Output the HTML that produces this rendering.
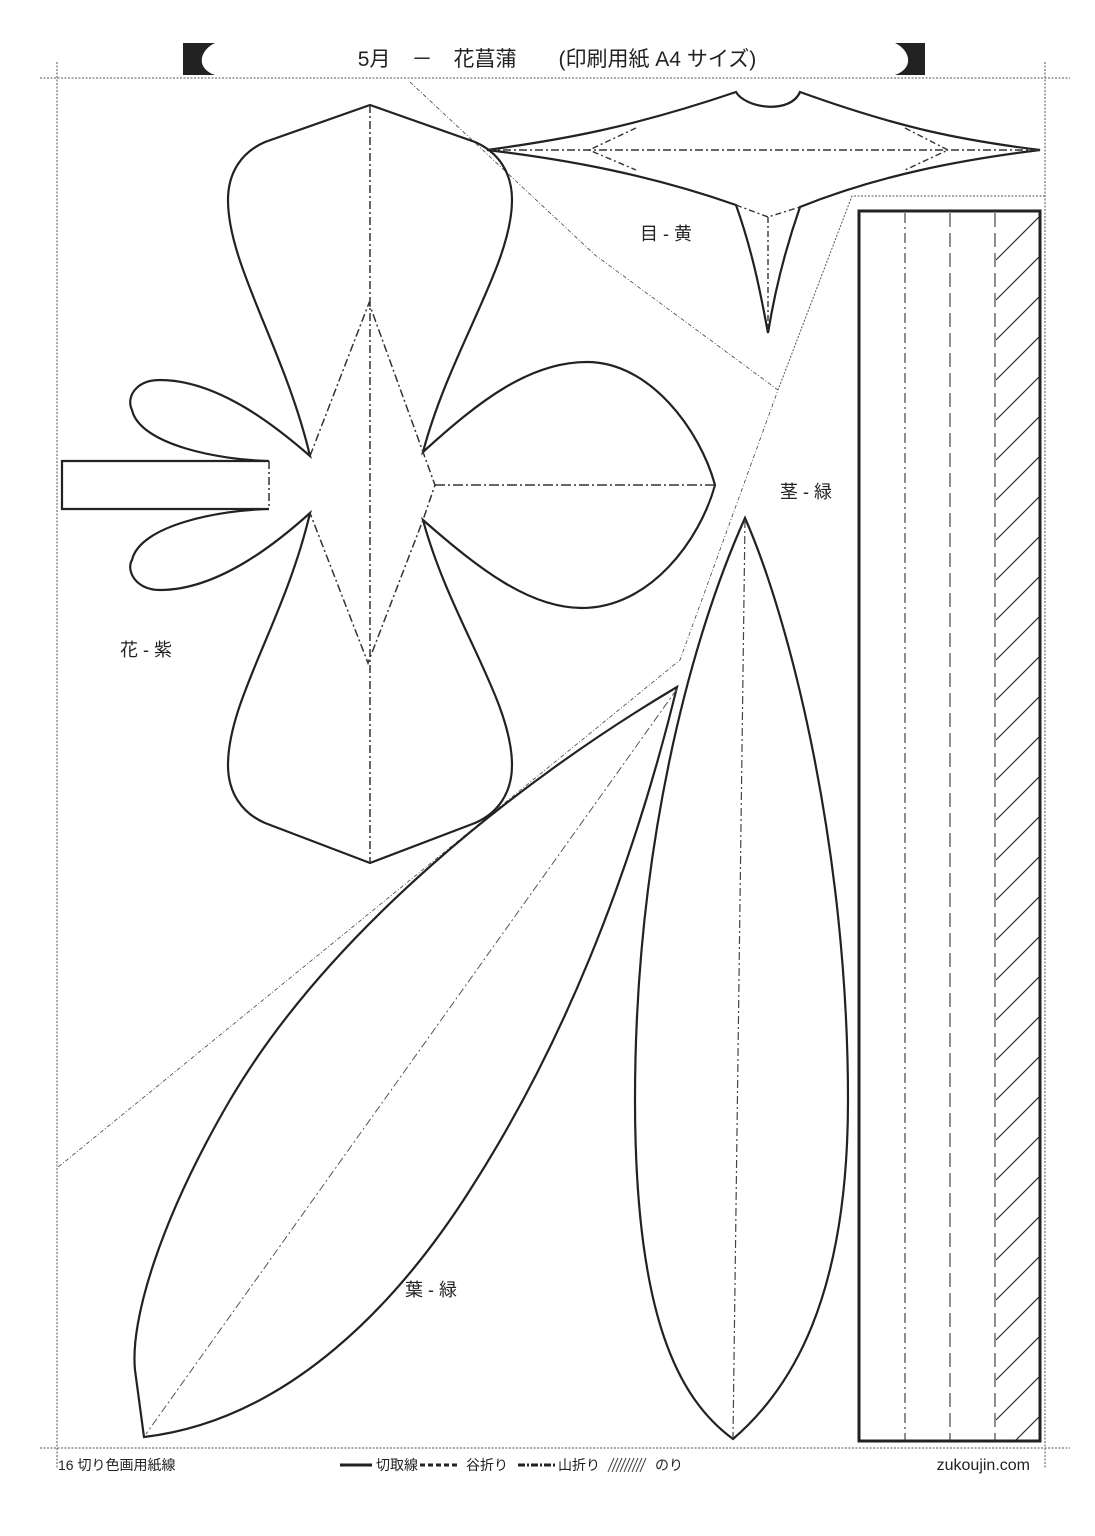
<!DOCTYPE html>
<html><head><meta charset="utf-8"><style>
html,body{margin:0;padding:0;background:#fff;}
svg{display:block;}
text{font-family:"Liberation Sans","Noto Sans CJK JP",sans-serif;fill:#222;}
</style></head><body>
<svg width="1095" height="1536" viewBox="0 0 1095 1536" xmlns="http://www.w3.org/2000/svg">
<defs>
<clipPath id="hc"><rect x="996" y="212" width="43" height="1228"/></clipPath>
</defs>
<path d="M183,43 L215,43 C200,50 195,68 215,75 L183,75 Z" fill="#222"/>
<path d="M925,43 L895,43 C910,50 915,68 895,75 L925,75 Z" fill="#222"/>
<text x="557" y="66" font-size="21" text-anchor="middle" xml:space="preserve">5月　－　花菖蒲　　(印刷用紙 A4 サイズ)</text>
<g stroke="#555" stroke-width="1" stroke-dasharray="2,1.5" fill="none">
<line x1="40" y1="78" x2="1070" y2="78"/>
<line x1="40" y1="1448" x2="1070" y2="1448"/>
<line x1="57" y1="62" x2="57" y2="1468"/>
<line x1="1045" y1="62" x2="1045" y2="1468"/>
<polyline points="1045,196 852,196 778,390"/>
</g>
<g stroke="#444" stroke-width="0.8" stroke-dasharray="4,2,1,2" fill="none">
<polyline points="410,82 595,255 778,390 680,660 57,1168"/>
</g>
<rect x="859" y="211" width="181" height="1230" fill="none" stroke="#222" stroke-width="3"/>
<g stroke="#444" stroke-width="1.2" fill="none">
<line x1="905" y1="213" x2="905" y2="1440" stroke-dasharray="10,4,2,4"/>
<line x1="950" y1="213" x2="950" y2="1440" stroke-dasharray="14,6"/>
<line x1="995" y1="213" x2="995" y2="1440" stroke-dasharray="14,6"/>
</g>
<g clip-path="url(#hc)" stroke="#333" stroke-width="1.2">
<path d="M996,260 L1046,210 M996,300 L1046,250 M996,340 L1046,290 M996,380 L1046,330 M996,420 L1046,370 M996,460 L1046,410 M996,500 L1046,450 M996,540 L1046,490 M996,580 L1046,530 M996,620 L1046,570 M996,660 L1046,610 M996,700 L1046,650 M996,740 L1046,690 M996,780 L1046,730 M996,820 L1046,770 M996,860 L1046,810 M996,900 L1046,850 M996,940 L1046,890 M996,980 L1046,930 M996,1020 L1046,970 M996,1060 L1046,1010 M996,1100 L1046,1050 M996,1140 L1046,1090 M996,1180 L1046,1130 M996,1220 L1046,1170 M996,1260 L1046,1210 M996,1300 L1046,1250 M996,1340 L1046,1290 M996,1380 L1046,1330 M996,1420 L1046,1370 M996,1460 L1046,1410 M996,1500 L1046,1450"/>
</g>
<g fill="none" stroke="#222" stroke-width="2.2">
<path d="M487,150 C560,140 630,128 736,92 C745,108 790,115 800,92 C900,128 960,140 1040,150 C960,160 880,175 800,207 C785,250 775,290 768,333 C760,290 752,250 736,205 C650,175 570,160 487,150 Z"/>
</g>
<g fill="none" stroke="#333" stroke-width="1.4">
<line x1="487" y1="150" x2="1040" y2="150" stroke-dasharray="8,3,2,3"/>
<polyline points="636,128 589,150 636,170" stroke-dasharray="6,3,2,3"/>
<polyline points="905,128 948,150 905,170" stroke-dasharray="6,3,2,3"/>
<polyline points="736,205 768,217 800,207" stroke-dasharray="6,3,2,3"/>
<line x1="768" y1="217" x2="768" y2="330" stroke-dasharray="6,3,2,3"/>
</g>
<text x="640" y="240" font-size="18">目 - 黄</text>
<g fill="none" stroke="#222" stroke-width="2.2">
<path d="M310,456 C285,350 228,265 228,200 C228,172 242,152 265,142 L370,105 L475,142 C498,152 512,172 512,200 C512,265 450,350 423,452 C480,400 530,362 587,362 C650,362 700,430 715,485 C700,540 650,608 582,608 C530,608 480,570 423,520 C450,620 512,700 512,765 C512,793 498,813 475,823 L370,863 L265,823 C242,813 228,793 228,765 C228,700 285,620 310,513 C280,540 220,590 160,590 C135,590 126,570 132,560 C140,525 220,510 269,509 L62,509 L62,461 L269,461 C220,460 140,445 132,410 C126,398 135,380 160,380 C220,380 280,430 310,456 Z"/>
</g>
<g fill="none" stroke="#333" stroke-width="1.5">
<line x1="370" y1="105" x2="370" y2="863" stroke-dasharray="8,3,2,3"/>
<polyline points="310,456 369,303 423,452 435,485 423,520 368,663 310,513" stroke-dasharray="8,3,2,3"/>
<line x1="435" y1="485" x2="715" y2="485" stroke-dasharray="10,3,2,3"/>
<line x1="269" y1="461" x2="269" y2="509" stroke-dasharray="8,3,2,3"/>
</g>
<text x="120" y="656" font-size="18">花 - 紫</text>
<path d="M745,518 C790,620 848,850 848,1100 C848,1300 790,1390 733,1439 C680,1400 635,1320 635,1100 C635,850 690,640 745,518 Z" fill="none" stroke="#222" stroke-width="2.2"/>
<line x1="745" y1="520" x2="733" y2="1437" stroke="#444" stroke-width="1.2" stroke-dasharray="8,3,2,3"/>
<text x="780" y="498" font-size="18">茎 - 緑</text>
<path d="M677,687 C520,780 330,930 230,1100 C160,1220 130,1320 135,1370 L144,1437 C290,1420 400,1300 470,1190 C560,1050 630,880 677,687 Z" fill="none" stroke="#222" stroke-width="2.2"/>
<line x1="677" y1="689" x2="146" y2="1434" stroke="#555" stroke-width="1" stroke-dasharray="8,3,2,3"/>
<text x="405" y="1296" font-size="18">葉 - 緑</text>
<text x="58" y="1470" font-size="14">16 切り色画用紙線</text>
<line x1="340" y1="1465" x2="372" y2="1465" stroke="#222" stroke-width="3"/>
<text x="376" y="1470" font-size="14">切取線</text>
<line x1="420" y1="1465" x2="460" y2="1465" stroke="#222" stroke-width="3" stroke-dasharray="5,3"/>
<text x="466" y="1470" font-size="14">谷折り</text>
<line x1="518" y1="1465" x2="555" y2="1465" stroke="#222" stroke-width="3" stroke-dasharray="7,2,2,2"/>
<text x="558" y="1470" font-size="14">山折り</text>
<path d="M608,1472 L614,1458 M612,1472 L618,1458 M616,1472 L622,1458 M620,1472 L626,1458 M624,1472 L630,1458 M628,1472 L634,1458 M632,1472 L638,1458 M636,1472 L642,1458 M640,1472 L646,1458" stroke="#444" stroke-width="1"/>
<text x="655" y="1470" font-size="14">のり</text>
<text x="1030" y="1470" font-size="16" text-anchor="end">zukoujin.com</text>
</svg>
</body></html>
